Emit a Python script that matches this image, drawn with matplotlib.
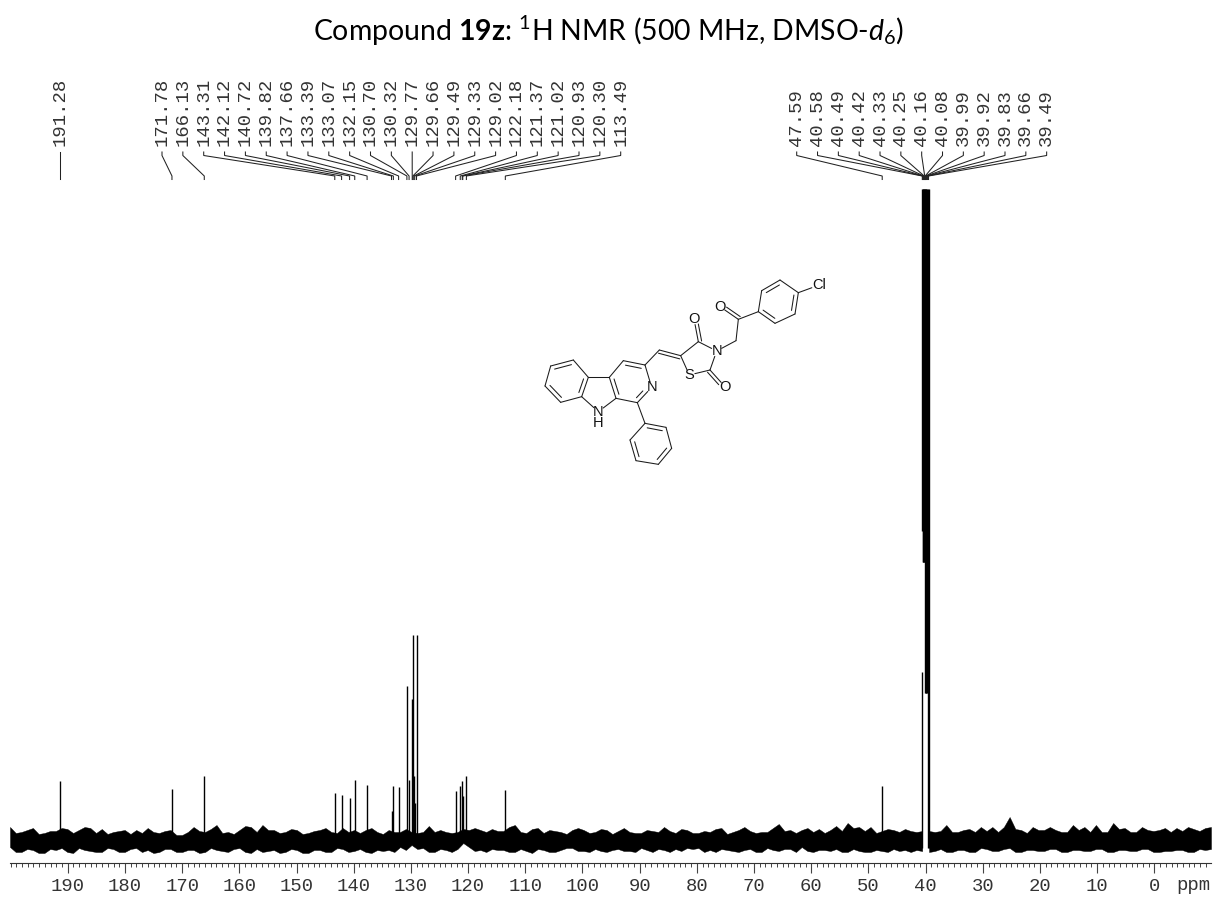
import numpy as np
import matplotlib
matplotlib.use("Agg")
import matplotlib.pyplot as plt

# ---------- data ----------
left_peak_ppm = [171.78, 166.13, 143.31, 142.12, 140.72, 139.82, 137.66, 133.39, 133.07, 132.15,
                 130.70, 130.32, 129.77, 129.66, 129.49, 129.33, 129.02, 122.18, 121.37, 121.02,
                 120.93, 120.30, 113.49]
left_peak_int = [51, 64, 47, 45, 42, 60, 55, 29, 54, 53,
                 154, 60, 141, 205, 64, 37, 205, 49, 54, 59,
                 44, 64, 50]
single_ppm = [191.28]
single_int = [59]
right_peak_ppm = [47.59]
right_peak_int = [54]
solvent_label_ppm = [40.58, 40.49, 40.42, 40.33, 40.25, 40.16, 40.08, 39.99, 39.92, 39.83, 39.66, 39.49]
solvent_ppm = [40.58, 40.58, 40.49, 40.42, 40.33, 40.25, 40.16, 40.08, 39.99, 39.92, 39.83, 39.66, 39.49]
solvent_high = [651, 168, 651, 651, 651, 651, 651, 651, 651, 651, 651, 651, 651]
solvent_low = [309, -8, 278, 278, 278, 278, 361, 147, 147, 147, 147, -8, -8]

# baseline noise band edges, left of the solvent (about 200 to 40.6 ppm)
noise_top_left = [13, 7, 8, 10, 12, 6, 7, 9, 9, 12, 11, 7, 10, 13, 12, 7, 11, 6, 8, 9,
                  10, 6, 10, 7, 12, 8, 7, 9, 10, 5, 5, 8, 13, 9, 8, 11, 15, 7, 8, 6,
                  10, 14, 13, 8, 15, 10, 10, 7, 8, 11, 10, 6, 7, 9, 10, 12, 8, 7, 12, 8,
                  10, 7, 10, 12, 8, 6, 10, 8, 8, 11, 8, 7, 8, 14, 8, 10, 8, 7, 8, 11,
                  10, 12, 10, 8, 11, 9, 9, 13, 15, 8, 7, 11, 12, 7, 10, 9, 8, 6, 10, 12,
                  10, 7, 8, 11, 10, 6, 9, 12, 8, 7, 7, 10, 9, 8, 13, 9, 7, 11, 10, 7,
                  7, 9, 8, 11, 12, 6, 8, 10, 13, 9, 7, 8, 8, 12, 16, 9, 10, 7, 10, 12,
                  8, 11, 7, 10, 14, 9, 17, 12, 13, 9, 13, 7, 9, 11, 10, 8, 11, 9, 8, 9]
noise_bot_left = [-7, -12, -12, -9, -10, -13, -13, -9, -10, -8, -12, -13, -8, -10, -11, -12, -12, -8, -9, -12,
                  -12, -9, -8, -12, -10, -13, -12, -9, -9, -12, -12, -10, -10, -13, -12, -8, -10, -11, -12, -9,
                  -8, -12, -13, -9, -12, -11, -10, -13, -12, -9, -10, -13, -13, -10, -10, -12, -12, -8, -9, -12,
                  -11, -9, -12, -13, -10, -11, -10, -12, -7, -10, -5, -9, -8, -12, -12, -9, -10, -12, -9, -3,
                  -7, -11, -10, -12, -9, -10, -10, -12, -12, -9, -11, -13, -9, -10, -12, -12, -10, -8, -8, -11,
                  -11, -12, -9, -11, -12, -10, -9, -11, -11, -12, -8, -10, -12, -9, -10, -12, -9, -11, -8, -9,
                  -8, -12, -10, -12, -9, -10, -11, -12, -10, -9, -12, -12, -8, -10, -11, -9, -9, -12, -7, -11,
                  -12, -10, -10, -11, -9, -12, -12, -9, -11, -12, -12, -10, -11, -12, -9, -11, -10, -12, -10, -11]
# baseline noise band edges, right of the solvent (about 39.4 to -9.9 ppm)
noise_top_right = [9, 8, 9, 15, 8, 8, 10, 11, 8, 13, 9, 13, 8, 13, 23, 11, 10, 7, 13, 10,
                   10, 13, 10, 8, 8, 15, 10, 13, 8, 15, 8, 8, 17, 11, 12, 8, 8, 13, 10, 9,
                   10, 12, 8, 12, 9, 13, 11, 9, 12, 13]
noise_bot_right = [-12, -11, -9, -12, -12, -10, -10, -12, -12, -8, -9, -11, -11, -9, -8, -12, -12, -10, -10, -11,
                   -11, -9, -9, -12, -12, -10, -10, -11, -11, -9, -9, -12, -12, -10, -10, -11, -11, -9, -9, -12,
                   -12, -11, -11, -10, -10, -12, -12, -9, -10, -9]

major_ticks = [190, 180, 170, 160, 150, 140, 130, 120, 110, 100, 90, 80, 70, 60, 50, 40, 30, 20, 10, 0]
title_text = r"Compound $\mathbf{19z}$: $^{1}$H NMR (500 MHz, DMSO-$\mathit{d}_{\mathit{6}}$)"

# ---------- figure ----------
W, H = 1213, 897
TXT = '#333333'
MONO = 13.6
plt.rcParams['mathtext.fontset'] = 'custom'
plt.rcParams['mathtext.rm'] = 'Lato'
plt.rcParams['mathtext.bf'] = 'Lato:bold'
plt.rcParams['mathtext.it'] = 'Lato:italic'
fig = plt.figure(figsize=(W / 100, H / 100), dpi=100, facecolor='white')

AXIS_Y, BASE_Y = 862.7, 840.0
ax = fig.add_axes([10 / W, 1 - AXIS_Y / H, 1201 / W, AXIS_Y / H])
ax.set_xlim(200.1, -9.9)
ax.set_ylim(BASE_Y - AXIS_Y, BASE_Y)
ax.patch.set_alpha(0)
for s in ['top', 'left', 'right']:
    ax.spines[s].set_visible(False)
ax.spines['bottom'].set_linewidth(0.8)
ax.spines['bottom'].set_color('#333333')
ax.set_yticks([])
ax.set_xticks(major_ticks)
ax.set_xticks(np.arange(-9, 201), minor=True)
ax.set_xticklabels([str(t) for t in major_ticks], family='Liberation Mono', fontsize=MONO, color=TXT)
ax.tick_params(axis='x', which='major', length=7.2, width=0.8, color='#444444', pad=4)
ax.tick_params(axis='x', which='minor', length=2.9, width=0.7, color='#444444')

ax.fill_between(np.linspace(200.1, 40.6, len(noise_top_left)), noise_bot_left, noise_top_left, color='black', lw=0.3)
ax.fill_between(np.linspace(39.4, -9.9, len(noise_top_right)), noise_bot_right, noise_top_right, color='black', lw=0.3)
all_ppm = single_ppm + left_peak_ppm + right_peak_ppm
all_int = single_int + left_peak_int + right_peak_int
ax.vlines(all_ppm, 0, all_int, color='black', lw=1.0)
ax.vlines(solvent_ppm, solvent_low, solvent_high, color='black', lw=1.0)

# overlay in picture pixels for annotation layout
ov = fig.add_axes([0, 0, 1, 1])
ov.set_xlim(0, W)
ov.set_ylim(H, 0)
ov.axis('off')
ov.patch.set_alpha(0)

def ppm_x(p):
    return ax.transData.transform((p, 0))[0]

def leader(label_x, ppm, lab):
    px = ppm_x(ppm)
    ov.plot([label_x, label_x, px, px], [152, 155.5, 176, 179.5], color='#222222', lw=0.75,
            solid_joinstyle='miter')
    ov.text(label_x, 146, lab, rotation=90, ha='center', va='bottom', family='Liberation Mono',
            fontsize=MONO, color=TXT)

leader(ppm_x(single_ppm[0]), single_ppm[0], f"{single_ppm[0]:.2f}")
for i, p in enumerate(left_peak_ppm):
    leader(162 + 20.85 * i, p, f"{p:.2f}")
for i, p in enumerate(right_peak_ppm + solvent_label_ppm):
    leader(796.7 + 20.83 * i, p, f"{p:.2f}")
ov.text(1193, 885.5, 'ppm', ha='center', va='center', family='Liberation Mono', fontsize=MONO, color=TXT)

ov.text(608, 41, title_text, ha='center', va='baseline', family='Lato', fontsize=20.45, color='black')

# ---------- molecule drawing ----------
atoms = dict(
    a1=(130, 270), a2=(62, 288), a3=(45, 348), a4=(92, 397), a5=(155, 380), a6=(175, 322),
    NH=(205, 425), c1=(258, 385), c2=(238, 322), c3=(322, 398), N1=(365, 352), c4=(345, 285), c5=(280, 272),
    v1=(388, 240), t1=(452, 257), t2=(505, 215), N2=(560, 243), t3=(540, 300), S=(478, 315),
    O1=(492, 147), O2=(585, 350), m1=(618, 212), m2=(625, 148), O3=(570, 110),
    r1=(685, 125), r2=(695, 62), r3=(750, 30), r4=(805, 68), r5=(795, 132), r6=(735, 160), Cl=(868, 45),
    p1=(345, 460), p2=(300, 510), p3=(318, 572), p4=(385, 583), p5=(425, 535), p6=(408, 472),
)
labelled = {'NH': 18, 'N1': 17, 'N2': 17, 'S': 17, 'O1': 17, 'O2': 17, 'O3': 17, 'Cl': 24}

def to_px(pt):
    return 530 + pt[0] / 3, 270 + pt[1] / 3

def seg(p, q):
    xs, ys = zip(to_px(p), to_px(q))
    ov.plot(xs, ys, color='#1a1a1a', lw=0.75, solid_capstyle='round')

def bond(a, b):
    p, q = np.array(atoms[a], float), np.array(atoms[b], float)
    d = (q - p) / np.linalg.norm(q - p)
    if a in labelled:
        p = p + d * labelled[a]
    if b in labelled:
        q = q - d * labelled[b]
    seg(p, q)
    return p, q

def inner(a, b, ring):
    p, q = bond(a, b)
    c = np.mean([atoms[r] for r in ring], axis=0)
    d = (q - p) / np.linalg.norm(q - p)
    n = np.array([-d[1], d[0]])
    if np.dot(c - p, n) < 0:
        n = -n
    seg(p + n * 12 + d * 9, q + n * 12 - d * 9)

def double(a, b, side):
    p, q = bond(a, b)
    d = (q - p) / np.linalg.norm(q - p)
    n = np.array([-d[1], d[0]])
    seg(p + n * side, q + n * side)

ben = ['a1', 'a2', 'a3', 'a4', 'a5', 'a6']
pyr = ['c2', 'c1', 'c3', 'N1', 'c4', 'c5']
chl = ['r1', 'r2', 'r3', 'r4', 'r5', 'r6']
phe = ['p1', 'p2', 'p3', 'p4', 'p5', 'p6']
inner('a1', 'a2', ben); bond('a2', 'a3'); inner('a3', 'a4', ben); bond('a4', 'a5'); inner('a5', 'a6', ben); bond('a6', 'a1')
bond('a5', 'NH'); bond('NH', 'c1'); bond('a6', 'c2')
inner('c2', 'c1', pyr); bond('c1', 'c3'); inner('c3', 'N1', pyr); bond('N1', 'c4'); inner('c4', 'c5', pyr); bond('c5', 'c2')
bond('c4', 'v1'); double('v1', 't1', 10)
bond('t1', 't2'); bond('t2', 'N2'); bond('N2', 't3'); bond('t3', 'S'); bond('S', 't1')
double('t2', 'O1', 10); double('t3', 'O2', 10)
bond('N2', 'm1'); bond('m1', 'm2'); double('m2', 'O3', 10); bond('m2', 'r1')
bond('r1', 'r2'); inner('r2', 'r3', chl); bond('r3', 'r4'); inner('r4', 'r5', chl); bond('r5', 'r6'); inner('r6', 'r1', chl)
bond('r4', 'Cl')
bond('c3', 'p1')
inner('p1', 'p6', phe); bond('p1', 'p2'); inner('p2', 'p3', phe); bond('p3', 'p4'); inner('p4', 'p5', phe); bond('p5', 'p6')

for txt, key in [('N', 'N1'), ('N', 'N2'), ('S', 'S'), ('O', 'O1'), ('O', 'O2'), ('O', 'O3'), ('Cl', 'Cl'), ('N', 'NH')]:
    x, y = to_px(atoms[key])
    ov.text(x, y, txt, ha='center', va='center', family='Liberation Sans', fontsize=10.5, color='#111111')
x, y = to_px((205, 460))
ov.text(x, y, 'H', ha='center', va='center', family='Liberation Sans', fontsize=10.5, color='#111111')

fig.savefig('out.png', dpi=100, facecolor='white')
